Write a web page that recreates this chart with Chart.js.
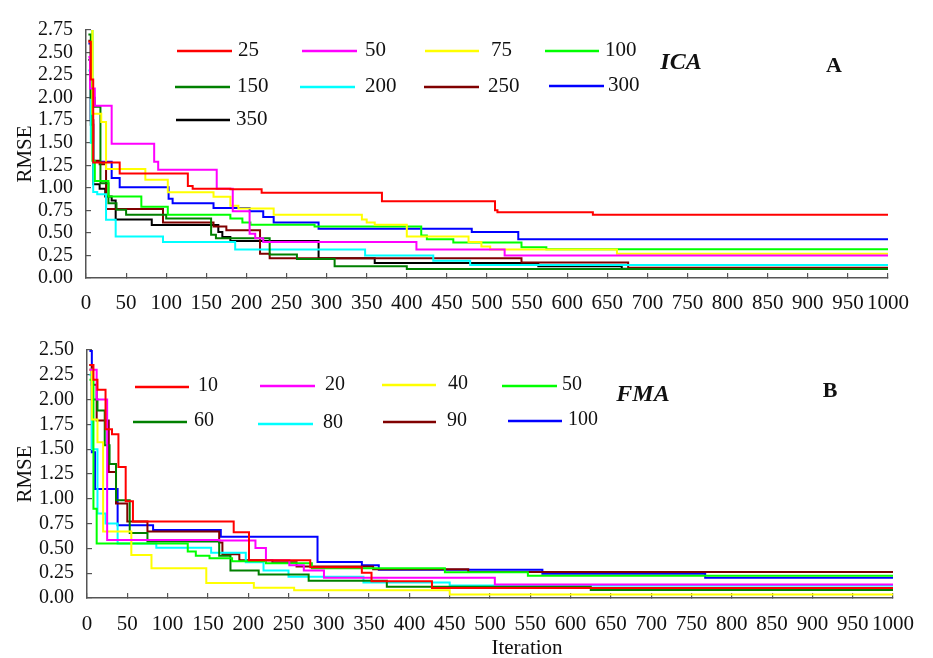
<!DOCTYPE html>
<html>
<head>
<meta charset="utf-8">
<script src="https://cdn.jsdelivr.net/npm/chart.js@4.4.1/dist/chart.umd.min.js"></script>
<style>
  html, body { margin: 0; padding: 0; background: #ffffff; }
  #page { position: relative; width: 933px; height: 658px; overflow: hidden; }
  #boxA { position: absolute; left: 0; top: 0; width: 933px; height: 320px; }
  #boxB { position: absolute; left: 0; top: 320px; width: 933px; height: 338px; }
  canvas { display: block; }
</style>
</head>
<body>
<div id="page">
  <div id="boxA"><canvas id="chartA" width="933" height="320"></canvas></div>
  <div id="boxB"><canvas id="chartB" width="933" height="338"></canvas></div>
</div>
<script>
// Convergence histories: [iteration, RMSE] at each improvement of the best solution.
// ICA runs, labelled by population size
const ica25  = [[3,2.62],[6,2.2],[9,1.28],[42,1.16],[127,1.02],[133,0.99],[180,0.985],[219,0.945],[369,0.85],[510,0.75],[513,0.73],[632,0.70],[1000,0.70]];
const ica50  = [[3,2.45],[5,2.1],[11,1.91],[32,1.49],[85,1.29],[90,1.2],[163,0.99],[183,0.74],[204,0.49],[211,0.44],[221,0.40],[412,0.315],[522,0.25],[1000,0.25]];
const ica75  = [[3,2.77],[8,1.82],[19,1.73],[25,1.21],[74,1.09],[102,0.95],[159,0.90],[180,0.80],[190,0.77],[234,0.70],[344,0.65],[350,0.615],[360,0.59],[400,0.46],[477,0.40],[493,0.35],[504,0.315],[662,0.27],[1000,0.27]];
const ica100 = [[3,2.78],[8,1.3],[11,1.075],[28,0.905],[69,0.79],[102,0.70],[180,0.66],[195,0.615],[205,0.59],[285,0.57],[418,0.47],[425,0.43],[458,0.395],[543,0.34],[574,0.32],[1000,0.32]];
const ica150 = [[3,2.70],[6,2.0],[11,1.9],[18,1.05],[28,0.83],[38,0.757],[50,0.70],[100,0.66],[156,0.48],[162,0.44],[229,0.26],[263,0.21],[310,0.13],[400,0.10],[1000,0.10]];
const ica200 = [[3,2.3],[6,1.5],[9,0.955],[14,0.93],[25,0.645],[37,0.46],[96,0.40],[186,0.315],[348,0.25],[433,0.19],[479,0.145],[1000,0.145]];
const ica250 = [[3,2.63],[6,1.75],[9,1.3],[17,1.26],[25,0.765],[96,0.615],[159,0.57],[175,0.53],[217,0.27],[229,0.22],[543,0.173],[676,0.113],[1000,0.113]];
const ica300 = [[3,2.6],[6,1.75],[9,1.29],[32,1.11],[42,1.005],[103,0.88],[108,0.83],[159,0.775],[204,0.74],[221,0.676],[234,0.615],[290,0.545],[481,0.51],[539,0.43],[1000,0.43]];
const ica350 = [[3,2.42],[6,1.7],[9,1.04],[17,0.99],[24,0.905],[32,0.86],[37,0.65],[82,0.587],[165,0.51],[170,0.456],[180,0.41],[290,0.22],[360,0.167],[564,0.13],[668,0.103],[1000,0.103]];

// FMA runs, labelled by population size
const fma10  = [[3,2.35],[8,2.2],[13,2.10],[23,1.70],[31,1.65],[39,1.32],[48,0.975],[57,0.77],[182,0.664],[201,0.38],[277,0.31],[341,0.255],[353,0.17],[428,0.10],[1000,0.10]];
const fma20  = [[3,2.3],[12,2.0],[25,0.585],[164,0.58],[209,0.505],[222,0.38],[251,0.33],[269,0.277],[294,0.205],[506,0.136],[1000,0.136]];
const fma40  = [[3,2.3],[6,1.8],[13,1.57],[20,0.67],[55,0.434],[80,0.30],[148,0.15],[207,0.104],[257,0.079],[450,0.035],[1000,0.035]];
const fma50  = [[3,2.2],[8,0.9],[12,0.55],[125,0.47],[135,0.425],[152,0.40],[180,0.37],[222,0.35],[279,0.30],[444,0.26],[547,0.225],[1000,0.222]];
const fma60  = [[3,2.3],[6,2.0],[13,1.89],[22,1.54],[28,1.35],[36,0.985],[53,0.655],[75,0.57],[164,0.425],[178,0.277],[213,0.236],[275,0.173],[372,0.113],[625,0.08],[1000,0.08]];
const fma80  = [[3,2.25],[6,1.5],[13,0.853],[23,0.75],[38,0.55],[86,0.506],[154,0.456],[197,0.36],[219,0.277],[250,0.214],[343,0.157],[450,0.126],[1000,0.125]];
const fma90  = [[3,2.35],[6,2.15],[12,1.79],[27,1.27],[36,0.953],[50,0.77],[75,0.67],[164,0.56],[168,0.44],[189,0.38],[230,0.36],[260,0.318],[355,0.29],[473,0.262],[1000,0.258]];
const fma100 = [[3,2.49],[6,1.47],[10,1.10],[38,0.733],[82,0.686],[166,0.617],[286,0.362],[341,0.33],[362,0.285],[565,0.245],[767,0.205],[1000,0.205]];

const icaLabels = ['25','50','75','100','150','200','250','300','350'];
const icaRuns = [ica25, ica50, ica75, ica100, ica150, ica200, ica250, ica300, ica350];
const fmaLabels = ['10','20','40','50','60','80','90','100'];
const fmaRuns = [fma10, fma20, fma40, fma50, fma60, fma80, fma90, fma100];

const icaColors = ['#ff0000','#ff00ff','#ffff00','#00ff00','#008000','#00ffff','#800000','#0000ff','#000000'];
const fmaColors = ['#ff0000','#ff00ff','#ffff00','#00ff00','#008000','#00ffff','#800000','#0000ff'];

const SERIF = "'Liberation Serif', 'Times New Roman', serif";
const AXIS = '#555555';

function makeSets(labels, runs, colors) {
  return runs.map((run, i) => ({
    label: labels[i],
    data: run.map(p => ({ x: p[0], y: p[1] })),
    borderColor: colors[i],
    backgroundColor: colors[i],
    borderWidth: 2,
    pointRadius: 0,
    fill: false,
    stepped: true,
    tension: 0
  }));
}

// Legend drawn inside the plot: one short line plus the run label per dataset
const lineKey = {
  id: 'lineKey',
  afterDraw(chart, args, opts) {
    const ctx = chart.ctx;
    ctx.save();
    opts.items.forEach((it, i) => {
      const ds = chart.data.datasets[i];
      ctx.strokeStyle = ds.borderColor;
      ctx.lineWidth = 2.5;
      ctx.beginPath();
      ctx.moveTo(it[0], it[2]);
      ctx.lineTo(it[1], it[2]);
      ctx.stroke();
      ctx.fillStyle = '#111111';
      ctx.font = opts.font;
      ctx.textAlign = 'left';
      ctx.textBaseline = 'middle';
      ctx.fillText(ds.label, it[3], it[2] - 1);
    });
    ctx.restore();
  }
};

// Free text: method name, panel letter, axis caption
const notes = {
  id: 'notes',
  afterDraw(chart, args, opts) {
    const ctx = chart.ctx;
    ctx.save();
    ctx.fillStyle = '#111111';
    ctx.textAlign = 'center';
    ctx.textBaseline = 'middle';
    opts.items.forEach(n => {
      ctx.font = n.font;
      ctx.fillText(n.text, n.x, n.y);
    });
    ctx.restore();
  }
};

function axes(yMax, yWidth, xHeight, xPad) {
  return {
    x: {
      type: 'linear', min: 0, max: 1000,
      afterFit: s => { s.height = xHeight; },
      ticks: {
        stepSize: 50, autoSkip: false, maxRotation: 0, minRotation: 0,
        color: '#111111', padding: xPad,
        font: { family: SERIF, size: 21 },
        callback: v => String(Math.round(v))
      },
      grid: { display: true, drawOnChartArea: false, drawTicks: true, tickLength: -5, color: AXIS, lineWidth: 1.2 },
      border: { display: true, color: AXIS, width: 1.5 }
    },
    y: {
      type: 'linear', min: 0, max: yMax,
      afterFit: s => { s.width = yWidth; },
      ticks: {
        stepSize: 0.25, autoSkip: false,
        color: '#111111', padding: 18,
        font: { family: SERIF, size: 20 },
        callback: v => Number(v).toFixed(2)
      },
      grid: { display: true, drawOnChartArea: false, drawTicks: true, tickLength: -5, color: AXIS, lineWidth: 1.2 },
      border: { display: true, color: AXIS, width: 1.5 },
      title: {
        display: true, text: 'RMSE', color: '#111111',
        font: { family: SERIF, size: 21 },
        padding: { top: 13, bottom: 0 }
      }
    }
  };
}

new Chart(document.getElementById('chartA'), {
  type: 'line',
  data: { datasets: makeSets(icaLabels, icaRuns, icaColors) },
  options: {
    responsive: false,
    animation: false,
    layout: { padding: { left: 0, right: 45, top: 19, bottom: 0 } },
    scales: axes(2.75, 86, 42, 18),
    plugins: {
      legend: { display: false },
      tooltip: { enabled: false },
      lineKey: {
        font: '21px ' + SERIF,
        items: [
          [177, 232, 51, 238], [302, 357, 51, 365], [425, 479, 51, 491], [545, 599, 51, 605],
          [175, 230, 87, 237], [300, 355, 87, 365], [424, 479, 87, 488], [549, 604, 86, 608],
          [176, 230, 120, 236]
        ]
      },
      notes: {
        items: [
          { text: 'ICA', x: 681, y: 63, font: 'italic bold 24px ' + SERIF },
          { text: 'A', x: 834, y: 66, font: 'bold 22px ' + SERIF }
        ]
      }
    }
  },
  plugins: [lineKey, notes]
});

new Chart(document.getElementById('chartB'), {
  type: 'line',
  data: { datasets: makeSets(fmaLabels, fmaRuns, fmaColors) },
  options: {
    responsive: false,
    animation: false,
    layout: { padding: { left: 0, right: 36, top: 13, bottom: 0 } },
    scales: axes(2.5, 87, 60, 19),
    plugins: {
      legend: { display: false },
      tooltip: { enabled: false },
      lineKey: {
        font: '20px ' + SERIF,
        items: [
          [135, 189, 67, 198], [260, 315, 66, 325], [382, 436, 65, 448], [502, 557, 66, 562],
          [133, 187, 102, 194], [258, 313, 104, 323], [383, 436, 102, 447], [508, 562, 101, 568]
        ]
      },
      notes: {
        items: [
          { text: 'FMA', x: 643, y: 75, font: 'italic bold 24px ' + SERIF },
          { text: 'B', x: 830, y: 71, font: 'bold 22px ' + SERIF },
          { text: 'Iteration', x: 527, y: 328, font: '21px ' + SERIF }
        ]
      }
    }
  },
  plugins: [lineKey, notes]
});
</script>
</body>
</html>
